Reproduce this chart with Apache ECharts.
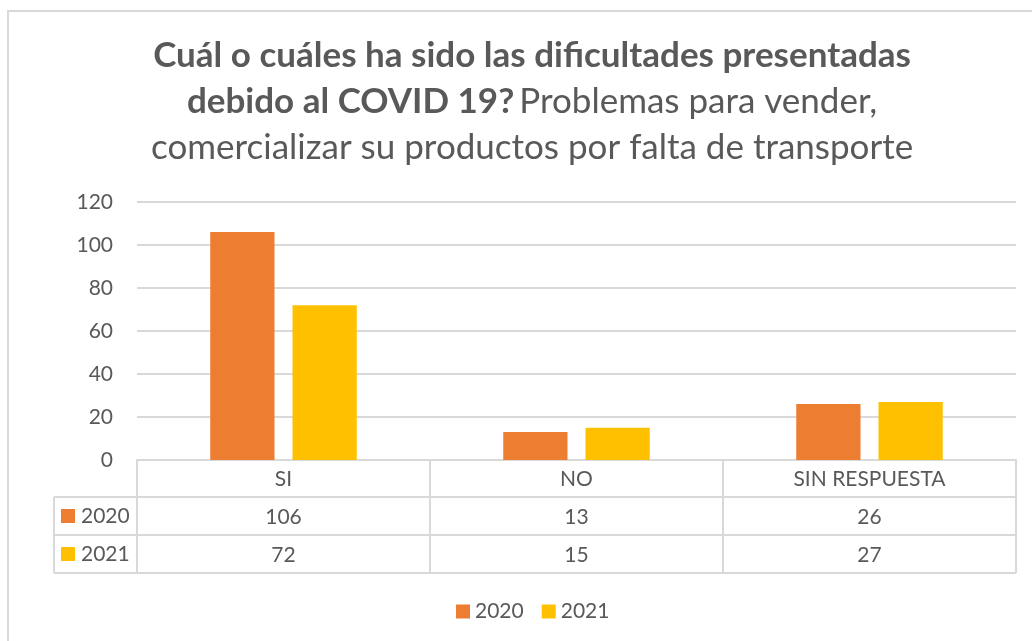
<!DOCTYPE html>
<html>
<head>
<meta charset="utf-8">
<script src="https://cdn.jsdelivr.net/npm/echarts@6/dist/echarts.min.js"></script>
<style>html,body{margin:0;padding:0;background:#fff}#main{width:1032px;height:641px}</style>
</head>
<body>
<div id="main"></div>
<script>
var categories = ['SI', 'NO', 'SIN RESPUESTA'];
var years = ['2020', '2021'];
var values2020 = [106, 13, 26];
var values2021 = [72, 15, 27];
var yTicks = [0, 20, 40, 60, 80, 100, 120];

var colors = ['#ED7D31', '#FFC000'];
var font = 'Lato';
var grey = '#595959';
var lineCol = '#d9d9d9';

var chart = echarts.init(document.getElementById('main'));

// lineas de la tabla de datos (debajo del eje)
var rowY = [497, 535, 573];
var tableGraphics = [];
rowY.forEach(function (y) {
    tableGraphics.push({ type: 'line', shape: { x1: 54, y1: y, x2: 1016, y2: y }, style: { stroke: lineCol, lineWidth: 2 } });
});
tableGraphics.push({ type: 'line', shape: { x1: 54, y1: 497, x2: 54, y2: 573 }, style: { stroke: lineCol, lineWidth: 2 } });
years.forEach(function (yr, i) {
    tableGraphics.push({ type: 'rect', shape: { x: 61, y: 509 + i * 38, width: 14, height: 14 }, style: { fill: colors[i] } });
    tableGraphics.push({ type: 'text', x: 81, y: 516 + i * 38, style: { text: yr, fill: grey, font: '21px ' + font, textVerticalAlign: 'middle' } });
});
// borde del grafico
tableGraphics.push({ type: 'rect', shape: { x: 8, y: 11, width: 1040, height: 650 }, style: { fill: 'none', stroke: lineCol, lineWidth: 2 }, z: -1 });

var option = {
    animation: false,
    title: {
        left: 146,
        top: 28,
        text: '{b|Cuál o cuáles ha sido las dificultades presentadas}\n{b|debido al COVID 19?} {n|Problemas para vender,}\n{n|comercializar su productos por falta de transporte}',
        textStyle: {
            rich: {
                b: { fontFamily: font, fontSize: 35, fontWeight: 'bold', color: grey, lineHeight: 46, align: 'center' },
                n: { fontFamily: font, fontSize: 35, fontWeight: 'normal', color: grey, lineHeight: 46, align: 'center' }
            }
        }
    },
    legend: {
        top: 596,
        left: 451,
        icon: 'rect',
        itemWidth: 14,
        itemHeight: 14,
        itemGap: 18,
        data: years,
        textStyle: { fontFamily: font, fontSize: 21, color: grey }
    },
    grid: { left: 137, right: 16, top: 202, height: 258, containLabel: false },
    xAxis: {
        type: 'category',
        data: categories,
        axisLine: { lineStyle: { color: lineCol, width: 2 } },
        axisTick: { show: true, interval: 0, length: 113, lineStyle: { color: lineCol, width: 2 } },
        axisLabel: {
            interval: 0,
            margin: 0,
            formatter: function (v, i) {
                return '{c|' + v + '}\n{v|' + values2020[i] + '}\n{v|' + values2021[i] + '}';
            },
            rich: {
                c: { fontFamily: font, fontSize: 21, color: grey, lineHeight: 38 },
                v: { fontFamily: font, fontSize: 21, color: grey, lineHeight: 38 }
            }
        }
    },
    yAxis: {
        type: 'value',
        min: yTicks[0],
        max: yTicks[yTicks.length - 1],
        interval: 20,
        axisLine: { show: false },
        axisTick: { show: false },
        axisLabel: { margin: 24, fontFamily: font, fontSize: 21, color: grey },
        splitLine: { lineStyle: { color: lineCol, width: 2 } }
    },
    graphic: tableGraphics,
    series: [
        { name: years[0], type: 'bar', data: values2020, itemStyle: { color: colors[0] }, barGap: '28%', barCategoryGap: '50%' },
        { name: years[1], type: 'bar', data: values2021, itemStyle: { color: colors[1] }, barGap: '28%', barCategoryGap: '50%' }
    ]
};
chart.setOption(option);
</script>
</body>
</html>
